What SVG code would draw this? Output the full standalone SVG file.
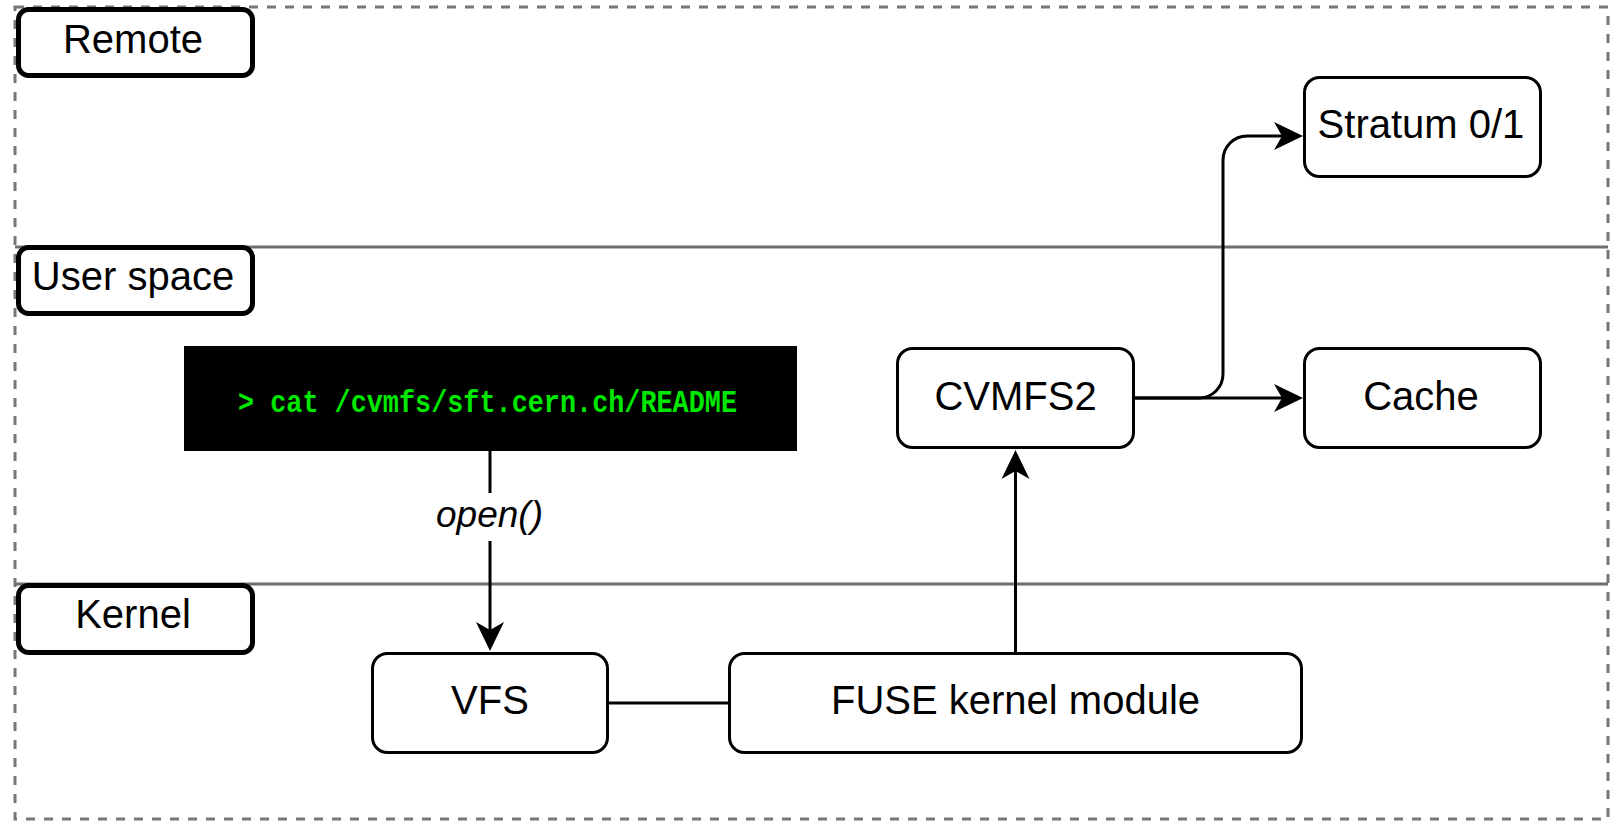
<svg xmlns="http://www.w3.org/2000/svg" width="1621" height="822" viewBox="0 0 1621 822">
<style>
.lane{fill:none;stroke:#6e6e6e;stroke-width:3}
.outer{fill:none;stroke:#777;stroke-width:3;stroke-dasharray:9 9}
.lbl{fill:#fff;stroke:#000;stroke-width:5}
.node{fill:#fff;stroke:#000;stroke-width:3}
.t{font-family:"Liberation Sans",Arial,sans-serif;font-size:40px;fill:#000;text-anchor:middle}
.edge{fill:none;stroke:#000;stroke-width:3}
</style>
<defs>
<marker id="arr" viewBox="-30 -15 32 30" markerWidth="32" markerHeight="30" refX="-21" refY="0" orient="auto" markerUnits="userSpaceOnUse">
<path d="M0,0 L-29,-14 L-21,0 L-29,14 Z" fill="#000"/>
</marker>
</defs>
<rect width="1621" height="822" fill="#fff"/>
<g id="lanes">
<rect class="outer" x="15" y="7" width="1593" height="812"/>
<line class="lane" x1="15" y1="247" x2="1608" y2="247"/>
<line class="lane" x1="15" y1="584" x2="1608" y2="584"/>
</g>
<g id="edges">
<path class="edge" d="M490,451 V630" marker-end="url(#arr)"/>
<path class="edge" d="M1015.5,652 V471" marker-end="url(#arr)"/>
<path class="edge" d="M1135,398 H1282" marker-end="url(#arr)"/>
<path class="edge" d="M1135,398 H1199 A24,24 0 0 0 1223,374 V160 A24,24 0 0 1 1247,136 H1282" marker-end="url(#arr)"/>
<path class="edge" d="M609,703 H728"/>
</g>
<g id="label-open">
<rect x="434" y="493" width="109" height="48" fill="#fff"/>
<text x="489.5" y="527" class="t" style="font-style:italic;font-size:37px">open()</text>
</g>
<g id="lane-remote">
<rect class="lbl" x="18.5" y="9.5" width="234" height="66" rx="10"/>
<text class="t" x="133" y="52.5">Remote</text>
</g>
<g id="lane-user">
<rect class="lbl" x="18.5" y="247.5" width="234" height="66" rx="10"/>
<text class="t" x="133" y="290">User space</text>
</g>
<g id="lane-kernel">
<rect class="lbl" x="18.5" y="585.5" width="234" height="67" rx="10"/>
<text class="t" x="133" y="628">Kernel</text>
</g>
<g id="terminal">
<rect x="184" y="346" width="613" height="105" fill="#000"/>
<text x="238" y="412" textLength="499" lengthAdjust="spacingAndGlyphs" style="font-family:'Liberation Mono','DejaVu Sans Mono',monospace;font-size:32px;font-weight:bold;fill:#00e800">&gt; cat /cvmfs/sft.cern.ch/README</text>
</g>
<g id="stratum">
<rect class="node" x="1304.5" y="77.5" width="236" height="99" rx="15"/>
<text class="t" x="1421" y="138">Stratum 0/1</text>
</g>
<g id="cache">
<rect class="node" x="1304.5" y="348.5" width="236" height="99" rx="15"/>
<text class="t" x="1421" y="409.5">Cache</text>
</g>
<g id="cvmfs2">
<rect class="node" x="897.5" y="348.5" width="236" height="99" rx="15"/>
<text class="t" x="1015.5" y="409.5">CVMFS2</text>
</g>
<g id="vfs">
<rect class="node" x="372.5" y="653.5" width="235" height="99" rx="15"/>
<text class="t" x="490" y="713.5">VFS</text>
</g>
<g id="fuse">
<rect class="node" x="729.5" y="653.5" width="572" height="99" rx="15"/>
<text class="t" x="1015.5" y="713.5">FUSE kernel module</text>
</g>
</svg>
